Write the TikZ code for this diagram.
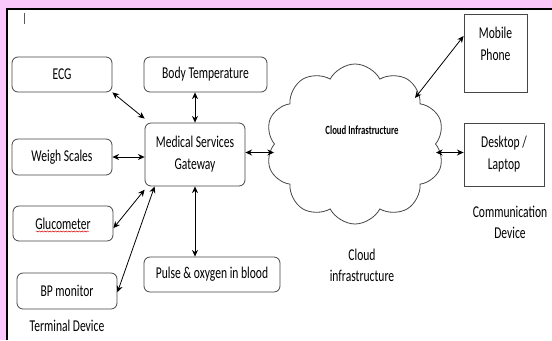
\documentclass[tikz,border=0pt]{standalone}
\usepackage{fontspec}
\setmainfont{Carlito}[FakeStretch=0.7]
\usetikzlibrary{arrows.meta,shapes.symbols,decorations.pathmorphing}

\definecolor{pinkbg}{RGB}{250,200,250}
\definecolor{boxline}{RGB}{70,70,70}

\tikzset{
  devbox/.style={draw=boxline, line width=0.6pt, rounded corners=4.5pt, fill=white,
    minimum width=75pt, minimum height=26.25pt, inner sep=1pt,
    font=\fontsize{12.4}{16.5}\selectfont, align=center},
  commbox/.style={draw=boxline, line width=0.6pt, fill=white, inner sep=1pt,
    font=\fontsize{12.4}{16.5}\selectfont, align=center},
  caption/.style={font=\fontsize{12.4}{16}\selectfont, align=center},
  link/.style={line width=0.6pt, {Stealth[length=5pt,width=4.5pt]}-{Stealth[length=5pt,width=4.5pt]}},
}

\begin{document}
\begin{tikzpicture}[x=0.75pt,y=0.75pt,yscale=-1,xscale=1]
\useasboundingbox (0,0) rectangle (552,340);

%Background
\fill [pinkbg] (0,0) rectangle (552,340);
\fill [white] (7,9) rectangle (552,340);
\draw [line width=1.6pt] (7,340) -- (7,9) -- (552,9);
%cursor mark
\draw [line width=0.6pt, gray!70!black] (24,13) -- (24,24);

%Terminal devices
\node (ecg) [devbox] at (62,74.5) {ECG};
\node (bodytemp) [devbox, minimum width=92.25pt] at (205.5,74.5) {Body Temperature};
\node (weigh) [devbox, minimum height=27pt] at (62,157) {Weigh Scales};
\node (gluco) [devbox] at (63,223.5) {Glucometer};
\node (bpmon) [devbox, minimum height=27pt] at (67,291) {BP monitor};
\node (pulse) [devbox, minimum width=102pt] at (212,274.5) {Pulse \& oxygen in blood};

%Gateway
\node (gateway) [devbox, minimum height=47.25pt] at (195,154.5) {Medical Services\\Gateway};

%Cloud
\node (cloud) [cloud, draw=boxline, line width=0.6pt, cloud puffs=10, cloud puff arc=125,
  aspect=1.1, minimum width=134pt, minimum height=120pt, inner sep=0pt] at (355,144) {};
\node (cloudtxt) [font=\bfseries\fontsize{9.4}{10}\selectfont] at (362,130) {Cloud Infrastructure};
\coordinate (cloudin) at (415,98);

%Communication devices
\node (mobile) [commbox, minimum width=47.25pt, minimum height=58.5pt] at (495.5,53) {};
\node (mobiletxt) [caption, anchor=north] at (495.5,22.5) {Mobile\\Phone};
\node (desktop) [commbox, minimum width=60pt, minimum height=47.25pt] at (504,154.5) {Desktop /\\Laptop};

% Text Node
\node (termlbl) [caption] at (67,326) {Terminal Device};
% Text Node
\node (cloudlbl) [caption] at (362,265) {Cloud\\infrastructure};
% Text Node
\node (commlbl) [caption] at (510,222.5) {Communication\\Device};

%spell-check underline
\draw [red!85!black, line width=0.35pt, decorate, decoration={snake, amplitude=0.4pt, segment length=2pt}] (36,231.5) -- (89,231.5);

%Links
\draw [link] (ecg.south east) -- ([yshift=-3pt]gateway.north west);
\draw [link] (gateway.north |- bodytemp.south) -- (gateway.north);
\draw [link] (weigh.east) -- (weigh.east -| gateway.west);
\draw [link] ([yshift=3.5pt]gluco.east) -- ([yshift=2.5pt]gateway.south west);
\draw [link] ([yshift=1pt]bpmon.east) -- ([xshift=7.5pt]gateway.south west);
\draw [link] (gateway.south) -- (gateway.south |- pulse.north);
\draw [link] ([yshift=-1.5pt]gateway.east) -- ([yshift=-1.5pt]gateway.east -| cloud.west);
\draw [link] (cloudin) -- ([yshift=-12.75pt]mobile.west);
\draw [link] ([yshift=-1.5pt]desktop.west -| cloud.east) -- ([yshift=-1.5pt]desktop.west);

\end{tikzpicture}
\end{document}
